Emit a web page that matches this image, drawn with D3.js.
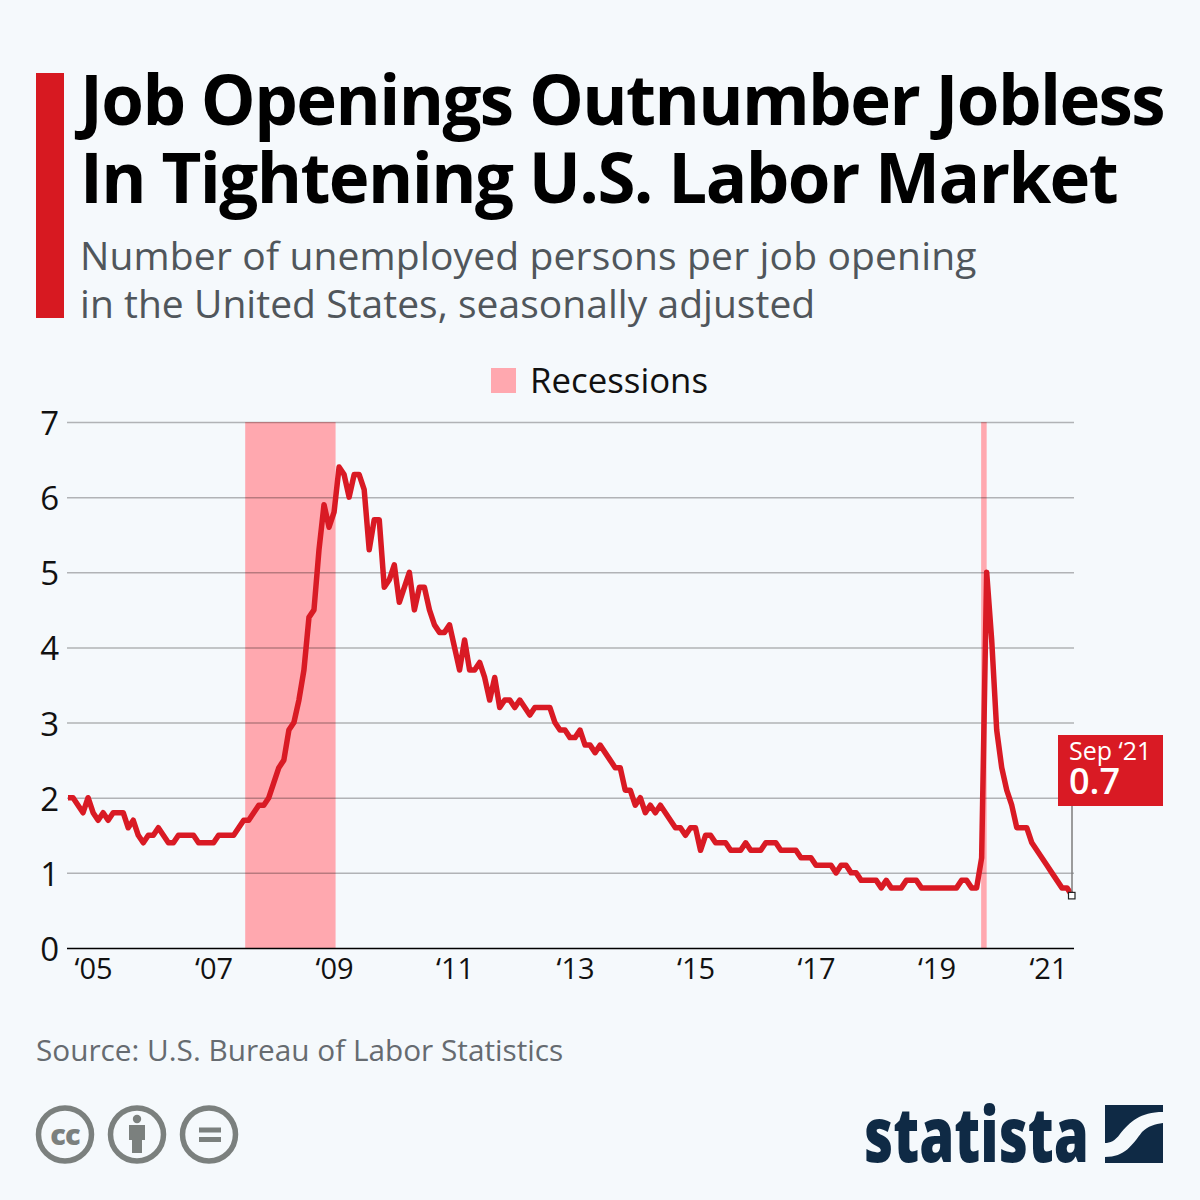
<!DOCTYPE html>
<html>
<head>
<meta charset="utf-8">
<script src="https://cdn.jsdelivr.net/npm/d3@7"></script>
<style>
  html, body { margin: 0; padding: 0; background: #f5f9fc; }
  svg { display: block; }
  text { font-family: "Open Sans", sans-serif; }
</style>
</head>
<body>
<svg id="chart" width="1200" height="1200"></svg>
<script>
// monthly values, first one is Jan 2005, last one is Sep 2021
var values = [
  2.0, 2.0, 1.9, 1.8, 2.0, 1.8, 1.7, 1.8, 1.7, 1.8, 1.8, 1.8,
  1.6, 1.7, 1.5, 1.4, 1.5, 1.5, 1.6, 1.5, 1.4, 1.4, 1.5, 1.5,
  1.5, 1.5, 1.4, 1.4, 1.4, 1.4, 1.5, 1.5, 1.5, 1.5, 1.6, 1.7,
  1.7, 1.8, 1.9, 1.9, 2.0, 2.2, 2.4, 2.5, 2.9, 3.0, 3.3, 3.7,
  4.4, 4.5, 5.3, 5.9, 5.6, 5.8, 6.4, 6.3, 6.0, 6.3, 6.3, 6.1,
  5.3, 5.7, 5.7, 4.8, 4.9, 5.1, 4.6, 4.8, 5.0, 4.5, 4.8, 4.8,
  4.5, 4.3, 4.2, 4.2, 4.3, 4.0, 3.7, 4.1, 3.7, 3.7, 3.8, 3.6,
  3.3, 3.6, 3.2, 3.3, 3.3, 3.2, 3.3, 3.2, 3.1, 3.2, 3.2, 3.2,
  3.2, 3.0, 2.9, 2.9, 2.8, 2.8, 2.9, 2.7, 2.7, 2.6, 2.7, 2.6,
  2.5, 2.4, 2.4, 2.1, 2.1, 1.9, 2.0, 1.8, 1.9, 1.8, 1.9, 1.8,
  1.7, 1.6, 1.6, 1.5, 1.6, 1.6, 1.3, 1.5, 1.5, 1.4, 1.4, 1.4,
  1.3, 1.3, 1.3, 1.4, 1.3, 1.3, 1.3, 1.4, 1.4, 1.4, 1.3, 1.3,
  1.3, 1.3, 1.2, 1.2, 1.2, 1.1, 1.1, 1.1, 1.1, 1.0, 1.1, 1.1,
  1.0, 1.0, 0.9, 0.9, 0.9, 0.9, 0.8, 0.9, 0.8, 0.8, 0.8, 0.9,
  0.9, 0.9, 0.8, 0.8, 0.8, 0.8, 0.8, 0.8, 0.8, 0.8, 0.9, 0.9,
  0.8, 0.8, 1.2, 5.0, 4.1, 2.9, 2.4, 2.1, 1.9, 1.6, 1.6, 1.6,
  1.4, 1.3, 1.2, 1.1, 1.0, 0.9, 0.8, 0.8, 0.7
];
var firstYear = 2005;

// recession bands in months since Jan 2005
var recessionStarts = [35.3, 181.9];
var recessionEnds = [53.3, 183];

var yTicks = [0, 1, 2, 3, 4, 5, 6, 7];
var xTickYears = [2005, 2007, 2009, 2011, 2013, 2015, 2017, 2019, 2021];

var red = "#d91a24";
var bandColor = "#ffa8af";
var inkColor = "#111";
var svg = d3.select("#chart");

var x = d3.scaleLinear().domain([0, values.length - 1]).range([68, 1072]);
var y = d3.scaleLinear().domain([0, 7]).range([948, 422]);

// header
svg.append("rect").attr("x", 36).attr("y", 73).attr("width", 28).attr("height", 245).attr("fill", "#d71921");

var titleLines = ["Job Openings Outnumber Jobless", "In Tightening U.S. Labor Market"];
svg.selectAll(".title").data(titleLines).enter().append("text")
  .attr("class", "title")
  .attr("x", 80)
  .attr("y", function(d, i) { return 125 + i * 78; })
  .attr("font-size", 69)
  .attr("font-weight", 700)
  .attr("letter-spacing", -1.58)
  .attr("fill", "#000")
  .text(function(d) { return d; });

var subLines = ["Number of unemployed persons per job opening", "in the United States, seasonally adjusted"];
svg.selectAll(".sub").data(subLines).enter().append("text")
  .attr("class", "sub")
  .attr("x", 80)
  .attr("y", function(d, i) { return 270 + i * 48; })
  .attr("font-size", 39)
  .attr("letter-spacing", function(d, i) { return i == 0 ? 0.15 : 0.03; })
  .attr("fill", "#50565b")
  .text(function(d) { return d; });

// legend
svg.append("rect").attr("x", 491).attr("y", 368).attr("width", 25).attr("height", 25).attr("fill", bandColor);
svg.append("text").attr("x", 530).attr("y", 393).attr("font-size", 34.8).attr("fill", inkColor).text("Recessions");

// recession bands
svg.selectAll(".band").data(recessionStarts).enter().append("rect")
  .attr("class", "band")
  .attr("x", function(d) { return x(d); })
  .attr("y", y(7))
  .attr("width", function(d, i) { return x(recessionEnds[i]) - x(d); })
  .attr("height", y(0) - y(7))
  .attr("fill", bandColor);

// y axis with the gridlines
var yAxis = d3.axisLeft(y).tickValues(yTicks).tickSize(1007).tickPadding(8).tickFormat(d3.format("d"));
var yG = svg.append("g").attr("transform", "translate(1074,0)").call(yAxis);
yG.select(".domain").remove();
yG.selectAll("line")
  .attr("stroke", "#000")
  .attr("stroke-opacity", function(d) { return d == 0 ? 1 : 0.28; })
  .attr("stroke-width", 1.5);
yG.selectAll("text")
  .attr("font-family", "Open Sans")
  .attr("font-size", 33)
  .attr("fill", inkColor)
  .attr("x", -1007 - 8)
  .attr("dy", "0.38em");

// x axis, labels sit in the middle of the year
var xTickIndex = xTickYears.map(function(yr) { return (yr - firstYear) * 12 + 5; });
var xAxis = d3.axisBottom(x).tickValues(xTickIndex).tickSize(0).tickPadding(0)
  .tickFormat(function(d) { return "\u2018" + String(firstYear + (d - 5) / 12).slice(2); });
var xG = svg.append("g").attr("transform", "translate(0," + y(0) + ")").call(xAxis);
xG.select(".domain").remove();
xG.selectAll("line").remove();
xG.selectAll("text")
  .attr("font-family", "Open Sans")
  .attr("font-size", 29)
  .attr("fill", inkColor)
  .attr("y", 31)
  .attr("dy", 0)
  .attr("dx", function(d, i) { return i == xTickYears.length - 1 ? -9 : 0; });

// the line
var line = d3.line()
  .x(function(d, i) { return x(i); })
  .y(function(d) { return y(d); });

svg.append("path")
  .datum(values)
  .attr("d", line)
  .attr("fill", "none")
  .attr("stroke", red)
  .attr("stroke-width", 5.5)
  .attr("stroke-linejoin", "round");

// callout for the last value
var lastI = values.length - 1;
svg.append("line")
  .attr("x1", x(lastI)).attr("x2", x(lastI))
  .attr("y1", 805).attr("y2", y(values[lastI]))
  .attr("stroke", "#7d7d7d").attr("stroke-width", 1.5);
svg.append("rect")
  .attr("x", x(lastI) - 3.5).attr("y", y(values[lastI]) - 3)
  .attr("width", 6.5).attr("height", 6.5)
  .attr("fill", "#fff").attr("stroke", "#222").attr("stroke-width", 1.2);
svg.append("rect").attr("x", 1058).attr("y", 735).attr("width", 105).attr("height", 71).attr("fill", red);
svg.append("text").attr("x", 1069).attr("y", 760).attr("font-size", 25).attr("fill", "#fff").text("Sep \u201821");
svg.append("text").attr("x", 1069).attr("y", 794).attr("font-size", 36).attr("font-weight", 600).attr("fill", "#fff").text(d3.format(".1f")(values[lastI]));

// source
svg.append("text").attr("x", 36).attr("y", 1061).attr("font-size", 29.75).attr("fill", "#666b70").text("Source: U.S. Bureau of Labor Statistics");

// cc icons
var iconColor = "#7b807e";
var iconX = [65, 137, 209];
svg.selectAll(".cc").data(iconX).enter().append("circle")
  .attr("class", "cc")
  .attr("cx", function(d) { return d; })
  .attr("cy", 1134.5)
  .attr("r", 26.5)
  .attr("fill", "none")
  .attr("stroke", iconColor)
  .attr("stroke-width", 5.5);
svg.append("text").attr("x", 65).attr("y", 1144.5).attr("text-anchor", "middle")
  .attr("font-size", 29).attr("font-weight", 800).attr("letter-spacing", -1).attr("fill", iconColor).text("cc");
svg.append("circle").attr("cx", 137).attr("cy", 1119).attr("r", 4.2).attr("fill", iconColor);
svg.append("path").attr("d", "M129 1125H145V1140H142V1153H132V1140H129Z").attr("fill", iconColor);
svg.append("rect").attr("x", 199).attr("y", 1127.5).attr("width", 22).attr("height", 5).attr("fill", iconColor);
svg.append("rect").attr("x", 199).attr("y", 1137).attr("width", 22).attr("height", 5).attr("fill", iconColor);

// statista logo
var navy = "#0f2a45";
svg.append("text").attr("x", 864).attr("y", 1162)
  .attr("font-family", "Roboto").attr("font-size", 76).attr("font-weight", 900)
  .attr("textLength", 225).attr("lengthAdjust", "spacingAndGlyphs")
  .attr("fill", navy).text("statista");
svg.append("path").attr("d", "M1105 1105H1163V1112C1140 1112 1130 1122 1120 1134C1115 1141 1110 1143 1105 1143Z").attr("fill", navy);
svg.append("path").attr("d", "M1105 1157C1125 1157 1132 1145 1142 1132C1148 1126 1155 1124 1163 1123V1163H1105Z").attr("fill", navy);
</script>
</body>
</html>
